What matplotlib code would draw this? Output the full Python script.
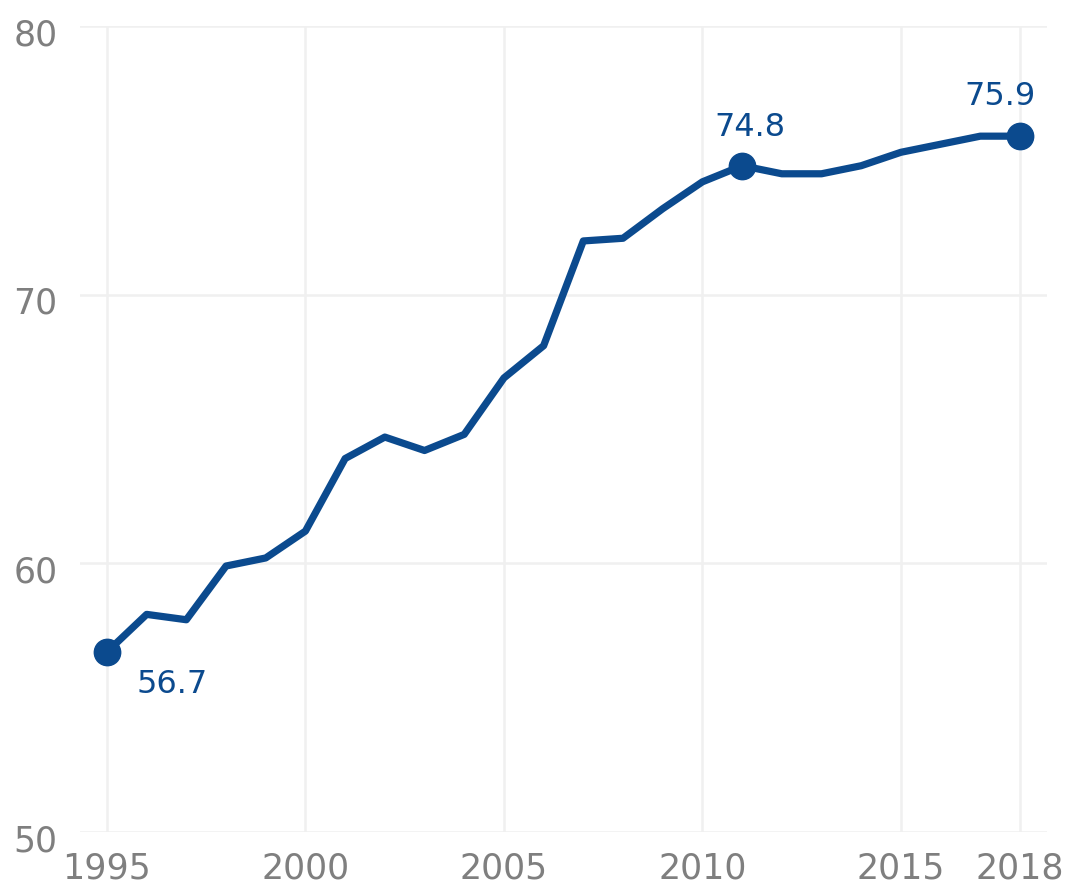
import numpy as np
import matplotlib
matplotlib.use("Agg")
import matplotlib.pyplot as plt
import matplotlib.transforms as mtransforms

# Data
years = np.arange(1995, 2019)
values = [56.7, 58.1, 57.9, 59.9, 60.2, 61.2, 63.9, 64.7, 64.2, 64.8,
          66.9, 68.1, 72.0, 72.1, 73.2, 74.2, 74.8, 74.5, 74.5, 74.8,
          75.3, 75.6, 75.9, 75.9]
label_years = [1995, 2011, 2018]
label_texts = ["56.7", "74.8", "75.9"]
xticks = [1995, 2000, 2005, 2010, 2015, 2018]
yticks = [50, 60, 70, 80]

line_color = "#0b4a8e"
text_color = "#7f7f7f"

fig = plt.figure(figsize=(10.69, 8.85), dpi=100)
ax = fig.add_axes([0.0748, 0.0599, 0.9046, 0.9107])

ax.plot(years, values, color=line_color, lw=5.2, solid_joinstyle="round",
        solid_capstyle="round", zorder=3)

# highlighted points with labels
offsets = [(65, -33), (8, 38), (-20, 40)]
for yr, txt, off in zip(label_years, label_texts, offsets):
    v = values[list(years).index(yr)]
    ax.plot(yr, v, "o", color=line_color, ms=19, zorder=4)
    ax.annotate(txt, (yr, v), xytext=off, textcoords="offset pixels",
                ha="center", va="center", fontsize=23, color=line_color)

ax.set_xlim(1994.32, 2018.68)
ax.set_ylim(50, 80)
ax.set_xticks(xticks)
ax.set_yticks(yticks)
ax.tick_params(axis="both", length=0, labelsize=25, colors=text_color)
ax.tick_params(axis="x", pad=14)
ax.tick_params(axis="y", pad=16)

# y labels sit a little below their gridline in the original
shift = mtransforms.ScaledTranslation(0, -4 / 72, fig.dpi_scale_trans)
for lbl in ax.get_yticklabels():
    lbl.set_transform(lbl.get_transform() + shift)

ax.grid(True, color="#f0f0f0", lw=1.8)
ax.set_axisbelow(True)
for s in ax.spines.values():
    s.set_visible(False)

fig.savefig("out.png", dpi=100)
